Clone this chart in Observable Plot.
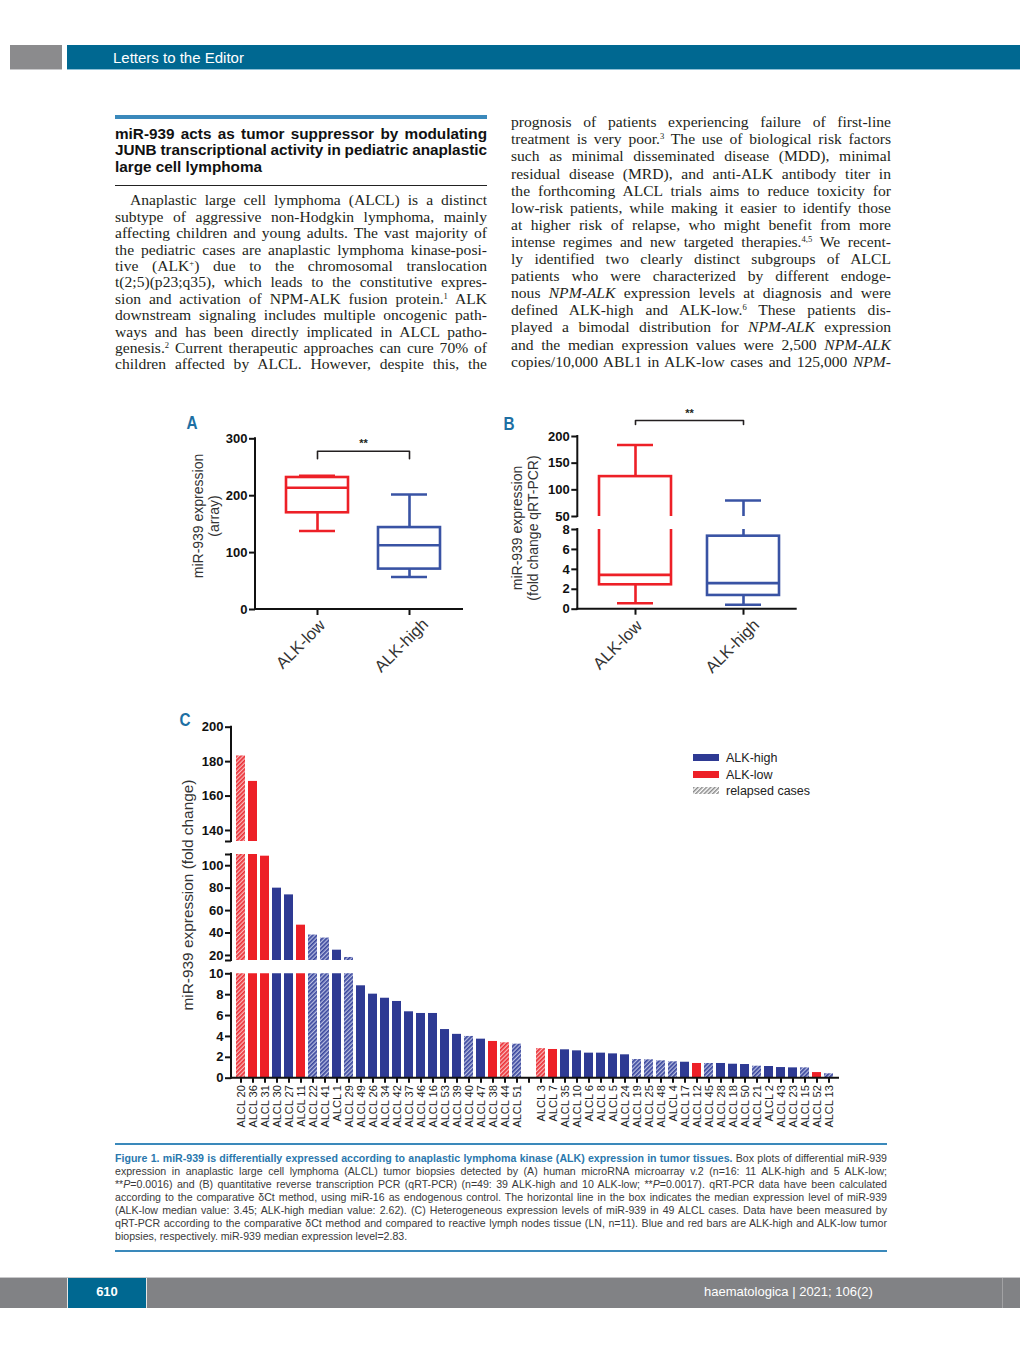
<!DOCTYPE html>
<html>
<head>
<meta charset="utf-8">
<script src="https://cdn.jsdelivr.net/npm/d3@7"></script>
<script src="https://cdn.jsdelivr.net/npm/@observablehq/plot@0.6"></script>
<style>
  html, body { margin: 0; padding: 0; background: #fff; }
  #page { position: relative; width: 1020px; height: 1347px; overflow: hidden; background: #fff;
          font-family: "Liberation Sans", Arial, Helvetica, sans-serif; }
  .box { position: absolute; }
  .ln { position: absolute; white-space: nowrap; }
  .ttl { font-family: "Liberation Sans", Arial, sans-serif; font-weight: bold; font-size: 15.3px; color: #111; }
  .srf { font-family: "Liberation Serif", "Times New Roman", serif; font-size: 15.6px; color: #231f20; }
  .cap { font-family: "Liberation Sans", Arial, sans-serif; font-size: 10.6px; color: #3a3a3a; }
  .cap b { color: #2a78ad; }
  sup { font-size: 0.55em; vertical-align: 0; position: relative; top: -0.6em; line-height: 0; }
  .ytitle { position: absolute; white-space: nowrap; text-align: center; color: #333;
            font-family: "Liberation Sans", Arial, sans-serif; transform: translate(-50%, -50%) rotate(-90deg); }
  .plet { position: absolute; font-family: "Liberation Sans Narrow", "Liberation Sans", Arial, sans-serif;
          font-weight: bold; font-size: 18px; color: #1d6fa3; transform: translate(-50%, -50%) scaleX(0.85); }
  .legtxt { position: absolute; font-size: 12.5px; color: #222; white-space: nowrap; transform: translateY(-50%); }
</style>
</head>
<body>
<div id="page">
  <svg width="0" height="0" style="position:absolute">
    <defs>
      <pattern id="hatch-blue" patternUnits="userSpaceOnUse" width="3" height="3" patternTransform="rotate(45)">
        <rect width="3" height="3" fill="#b8bee2"></rect>
        <rect width="1.7" height="3" fill="#3a479d"></rect>
      </pattern>
      <pattern id="hatch-red" patternUnits="userSpaceOnUse" width="3" height="3" patternTransform="rotate(45)">
        <rect width="3" height="3" fill="#f8b9bb"></rect>
        <rect width="1.7" height="3" fill="#ec3036"></rect>
      </pattern>
      <pattern id="hatch-gray" patternUnits="userSpaceOnUse" width="3" height="3" patternTransform="rotate(45)">
        <rect width="3" height="3" fill="#ffffff"></rect>
        <rect width="1.5" height="3" fill="#8a8a8a"></rect>
      </pattern>
    </defs>
  </svg>

  <!-- header -->
  <div class="box" style="left:10px;top:45px;width:52px;height:24px;background:#8b8b8d;"></div>
  <div class="box" style="left:10px;top:69px;width:52px;height:1px;background:#c9c9cb;"></div>
  <div class="box" style="left:67px;top:45px;width:953px;height:24px;background:#006891;"></div>
  <div class="box" style="left:67px;top:69px;width:953px;height:1px;background:#8fc0d6;"></div>
  <div class="box" style="left:113px;top:48px;height:20px;line-height:20px;font-size:15px;color:#fff;">Letters to the Editor</div>

  <!-- title rules -->
  <div class="box" style="left:115px;top:114.5px;width:372px;height:4px;background:#3a89bb;"></div>
  <div class="box" style="left:115px;top:185px;width:372px;height:1px;background:#222;"></div>

  <!-- caption rules -->
  <div class="box" style="left:115px;top:1143px;width:772px;height:1.5px;background:#3a89bb;"></div>
  <div class="box" style="left:115px;top:1250px;width:772px;height:1.5px;background:#3a89bb;"></div>

  <!-- footer -->
  <div class="box" style="left:0px;top:1278px;width:1020px;height:30px;background:#818285;"></div>
  <div class="box" style="left:0px;top:1277px;width:1020px;height:1px;background:#c8c8ca;"></div>
  <div class="box" style="left:67px;top:1278px;width:1px;height:30px;background:#e6e6e6;"></div>
  <div class="box" style="left:68px;top:1278px;width:78px;height:30px;background:#006891;"></div>
  <div class="box" style="left:146px;top:1278px;width:1px;height:30px;background:#e6e6e6;"></div>
  <div class="box" style="left:1002px;top:1278px;width:1px;height:30px;background:#a2a2a4;"></div>
  <div class="box" style="left:68px;top:1283px;width:78px;height:18px;line-height:18px;text-align:center;font-size:13px;font-weight:bold;color:#fff;">610</div>
  <div class="box" style="left:704px;top:1283px;height:18px;line-height:18px;font-size:13px;color:#fff;white-space:nowrap;">haematologica | 2021; 106(2)</div>

  <!-- panel letters -->
  <div class="plet" style="left:192px;top:423px;">A</div>
  <div class="plet" style="left:509px;top:424px;">B</div>
  <div class="plet" style="left:185px;top:720px;">C</div>

  <!-- axis titles -->
  <div class="ytitle" style="left:206px;top:516px;font-size:14px;line-height:16px;">miR-939 expression<br>(array)</div>
  <div class="ytitle" style="left:525px;top:528px;font-size:14px;line-height:16px;">miR-939 expression<br>(fold change qRT-PCR)</div>
  <div class="ytitle" style="left:188px;top:895px;font-size:15.4px;line-height:18px;">miR-939 expression (fold change)</div>
</div>

<script>
// ---------------- DATA ----------------
const groups = ["ALK-low", "ALK-high"];

// Panel A: microarray box plot statistics
const aMin    = [138, 57];
const aQ1     = [170, 71];
const aMedian = [214, 113];
const aQ3     = [232, 144];
const aMax    = [235, 202];
const aTicks  = [0, 100, 200, 300];
const sigA    = {top: 278, foot: 265, labelY: 292, label: "**"};

// Panel B: qRT-PCR box plot statistics
const bMin    = [0.6, 0.44];
const bQ1     = [2.45, 1.38];
const bMedian = [3.45, 2.62];
const bQ3     = [124.8, 7.33];
const bMax    = [184, 80];
const bTopDomain = [50, 200];
const bTopTicks  = [50, 100, 150, 200];
const bBotDomain = [0, 8];
const bBotTicks  = [0, 2, 4, 6, 8];
const sigB    = {top: 230, foot: 222.5, labelY: 243, label: "**"};

// Panel C: per-case fold change
const cases = ["ALCL 20","ALCL 36","ALCL 31","ALCL 30","ALCL 27","ALCL 11","ALCL 22","ALCL 41","ALCL 1","ALCL 29",
  "ALCL 49","ALCL 26","ALCL 34","ALCL 42","ALCL 37","ALCL 46","ALCL 16","ALCL 53","ALCL 39","ALCL 40",
  "ALCL 47","ALCL 38","ALCL 44","ALCL 51","ALCL 3","ALCL 7","ALCL 35","ALCL 10","ALCL 6","ALCL 8",
  "ALCL 5","ALCL 24","ALCL 19","ALCL 25","ALCL 48","ALCL 4","ALCL 17","ALCL 12","ALCL 45","ALCL 28",
  "ALCL 18","ALCL 50","ALCL 21","ALCL 2","ALCL 43","ALCL 23","ALCL 15","ALCL 52","ALCL 13"];
const foldChange = [183.3, 168.5, 108.5, 80, 74, 47, 38.2, 35.5, 24.7, 18.2,
  8.85, 8.05, 7.66, 7.35, 6.36, 6.2, 6.2, 4.66, 4.2, 4.0,
  3.74, 3.52, 3.39, 3.26, 2.83, 2.75, 2.72, 2.62, 2.40, 2.40,
  2.33, 2.24, 1.79, 1.76, 1.66, 1.57, 1.53, 1.41, 1.41, 1.41,
  1.34, 1.31, 1.15, 1.12, 1.02, 0.99, 0.99, 0.54, 0.42];
const alkStatus = ["low","low","low","high","high","low","high","high","high","high",
  "high","high","high","high","high","high","high","high","high","high",
  "high","low","low","high","low","low","high","high","high","high",
  "high","high","high","high","high","high","high","low","high","high",
  "high","high","high","high","high","high","high","low","high"];
const relapsed = [1,0,0,0,0,0,1,1,0,1,
  0,0,0,0,0,0,0,0,0,1,
  0,0,1,1,1,0,0,0,0,0,
  0,0,1,1,1,1,0,0,1,0,
  0,0,1,0,0,0,1,0,1];
const gapAfter = "ALCL 51";
const GAP = " ";
const cSegments = [
  {domain: [133.6, 200], ticks: [140, 160, 180, 200]},
  {domain: [15.5, 110],  ticks: [20, 40, 60, 80, 100]},
  {domain: [0, 10],      ticks: [0, 2, 4, 6, 8, 10]}
];
const legendItems = [
  {label: "ALK-high", fill: "#2e3a93"},
  {label: "ALK-low", fill: "#ed2027"},
  {label: "relapsed cases", fill: "url(#hatch-gray)"}
];

// ---------------- TEXT ----------------
const titleLines = [
  {t: "miR-939 acts as tumor suppressor by modulating"},
  {t: "JUNB transcriptional activity in pediatric anaplastic"},
  {t: "large cell lymphoma", last: true}
];
const leftLines = [
  {t: "Anaplastic large cell lymphoma (ALCL) is a distinct", ind: true},
  {t: "subtype of aggressive non-Hodgkin lymphoma, mainly"},
  {t: "affecting children and young adults. The vast majority of"},
  {t: "the pediatric cases are anaplastic lymphoma kinase-posi-"},
  {t: "tive (ALK<sup>+</sup>) due to the chromosomal translocation"},
  {t: "t(2;5)(p23;q35), which leads to the constitutive expres-"},
  {t: "sion and activation of NPM-ALK fusion protein.<sup>1</sup> ALK"},
  {t: "downstream signaling includes multiple oncogenic path-"},
  {t: "ways and has been directly implicated in ALCL patho-"},
  {t: "genesis.<sup>2</sup> Current therapeutic approaches can cure 70% of"},
  {t: "children affected by ALCL. However, despite this, the"}
];
const rightLines = [
  {t: "prognosis of patients experiencing failure of first-line"},
  {t: "treatment is very poor.<sup>3</sup> The use of biological risk factors"},
  {t: "such as minimal disseminated disease (MDD), minimal"},
  {t: "residual disease (MRD), and anti-ALK antibody titer in"},
  {t: "the forthcoming ALCL trials aims to reduce toxicity for"},
  {t: "low-risk patients, while making it easier to identify those"},
  {t: "at higher risk of relapse, who might benefit from more"},
  {t: "intense regimes and new targeted therapies.<sup>4,5</sup> We recent-"},
  {t: "ly identified two clearly distinct subgroups of ALCL"},
  {t: "patients who were characterized by different endoge-"},
  {t: "nous <i>NPM-ALK</i> expression levels at diagnosis and were"},
  {t: "defined ALK-high and ALK-low.<sup>6</sup> These patients dis-"},
  {t: "played a bimodal distribution for <i>NPM-ALK</i> expression"},
  {t: "and the median expression values were 2,500 <i>NPM-ALK</i>"},
  {t: "copies/10,000 ABL1 in ALK-low cases and 125,000 <i>NPM-</i>"}
];
const captionLines = [
  {t: "<b>Figure 1. miR-939 is differentially expressed according to anaplastic lymphoma kinase (ALK) expression in tumor tissues.</b> Box plots of differential miR-939"},
  {t: "expression in anaplastic large cell lymphoma (ALCL) tumor biopsies detected by (A) human microRNA microarray v.2 (n=16: 11 ALK-high and 5 ALK-low;"},
  {t: "**<i>P</i>=0.0016) and (B) quantitative reverse transcription PCR (qRT-PCR) (n=49: 39 ALK-high and 10 ALK-low; **<i>P</i>=0.0017). qRT-PCR data have been calculated"},
  {t: "according to the comparative &#948;Ct method, using miR-16 as endogenous control. The horizontal line in the box indicates the median expression level of miR-939"},
  {t: "(ALK-low median value: 3.45; ALK-high median value: 2.62). (C) Heterogeneous expression levels of miR-939 in 49 ALCL cases. Data have been measured by"},
  {t: "qRT-PCR according to the comparative &#948;Ct method and compared to reactive lymph nodes tissue (LN, n=11). Blue and red bars are ALK-high and ALK-low tumor"},
  {t: "biopsies, respectively. miR-939 median expression level=2.83.", last: true}
];

// ---------------- HELPERS ----------------
const page = document.getElementById("page");
const SVGNS = "http://www.w3.org/2000/svg";

function layLines(lines, o) {
  lines.forEach((ln, i) => {
    const d = document.createElement("div");
    d.className = "ln " + o.cls;
    d.innerHTML = ln.t;
    const ind = ln.ind ? (o.indent || 0) : 0;
    d.style.left = (o.x + ind) + "px";
    d.style.top = (o.y + i * o.dy - o.lh / 2) + "px";
    d.style.lineHeight = o.lh + "px";
    d.style.height = o.lh + "px";
    page.appendChild(d);
    if (!ln.last) {
      const nat = d.getBoundingClientRect().width;
      const n = (d.textContent.match(/ /g) || []).length;
      if (n) d.style.wordSpacing = ((o.w - ind - nat) / n) + "px";
    }
  });
}

layLines(titleLines, {cls: "ttl", x: 115, w: 372, y: 133.3, dy: 16.4, lh: 17});
layLines(leftLines, {cls: "srf", x: 115, w: 372, indent: 15, y: 199.8, dy: 16.4, lh: 17});
layLines(rightLines, {cls: "srf", x: 511, w: 380, y: 121.7, dy: 17.1, lh: 17});
layLines(captionLines, {cls: "cap", x: 115, w: 772, y: 1158, dy: 13.0, lh: 13});

function place(el, left, top) {
  el.style.position = "absolute";
  el.style.left = left + "px";
  el.style.top = top + "px";
  page.appendChild(el);
}

const FONT = '"Liberation Sans", Arial, Helvetica, sans-serif';
const RED = "#ed2027";
const BLUE_BOX = "#3953a4";
const BLUE_BAR = "#2e3a93";
const plotStyle = {fontFamily: FONT, background: "transparent", overflow: "visible", color: "#111"};

// axis line along a side of the plot frame (render-function mark using Plot's dimensions)
function frameLine(side) {
  return (index, scales, values, dims) => {
    const {width, height, marginTop, marginRight, marginBottom, marginLeft} = dims;
    const l = document.createElementNS(SVGNS, "line");
    if (side === "left") {
      l.setAttribute("x1", marginLeft); l.setAttribute("x2", marginLeft);
      l.setAttribute("y1", marginTop); l.setAttribute("y2", height - marginBottom);
    } else {
      l.setAttribute("x1", marginLeft); l.setAttribute("x2", width - marginRight);
      l.setAttribute("y1", height - marginBottom); l.setAttribute("y2", height - marginBottom);
    }
    l.setAttribute("stroke", "#111");
    l.setAttribute("stroke-width", 2);
    l.setAttribute("stroke-linecap", "square");
    return l;
  };
}

function boxTable(mn, q1, md, q3, mx) {
  return groups.map((g, i) => ({group: g, min: mn[i], q1: q1[i], median: md[i], q3: q3[i], max: mx[i]}));
}

function boxMarks(t, capInset, sw, clip) {
  return [
    Plot.ruleX(t, {x: "group", y1: "min", y2: "q1", stroke: "group", strokeWidth: sw, clip}),
    Plot.ruleX(t, {x: "group", y1: "q3", y2: "max", stroke: "group", strokeWidth: sw, clip}),
    Plot.tickY(t, {x: "group", y: "min", stroke: "group", strokeWidth: sw, insetLeft: capInset, insetRight: capInset, clip}),
    Plot.tickY(t, {x: "group", y: "max", stroke: "group", strokeWidth: sw, insetLeft: capInset, insetRight: capInset, clip}),
    Plot.barY(t, {x: "group", y1: "q1", y2: "q3", fill: "none", stroke: "group", strokeWidth: sw, clip}),
    Plot.tickY(t, {x: "group", y: "median", stroke: "group", strokeWidth: sw, clip})
  ];
}

function bracketMarks(s, half) {
  const pts = [
    {group: groups[0], y: s.foot}, {group: groups[0], y: s.top},
    {group: groups[1], y: s.top}, {group: groups[1], y: s.foot}
  ];
  return [
    Plot.line(pts, {x: "group", y: "y", stroke: "#231f20", strokeWidth: 1.6}),
    Plot.text([s], {x: () => groups[0], y: "labelY", text: "label", dx: half, fontSize: 11, fontWeight: "bold", fill: "#231f20"})
  ];
}

function yAxis(ticks, domain) {
  const labelled = new Set(ticks);
  const all = Array.from(new Set([...ticks, ...domain]));
  return Plot.axisY({
    ticks: all, tickFormat: d => labelled.has(d) ? String(d) : "",
    tickSize: 6, tickPadding: 2, fontSize: 13, fontWeight: "bold",
    strokeWidth: 2, label: null
  });
}

// x axis for the box plots: tick marks, then each rotated label nudged separately
function xAxisBox(nudges) {
  return [
    Plot.axisX({tickSize: 6, strokeWidth: 2, label: null, tickFormat: () => ""}),
    ...groups.map((g, i) => Plot.axisX({ticks: [g], tickSize: 0, tickPadding: 8, tickRotate: -45, fontSize: 16.5,
      label: null, fill: "#333", dx: nudges[i][0], dy: nudges[i][1]}))
  ];
}

const colorBox = {domain: groups, range: [RED, BLUE_BOX]};

// ---------------- PANEL A ----------------
const tableA = boxTable(aMin, aQ1, aMedian, aQ3, aMax);
const plotA = Plot.plot({
  width: 290, height: 255,
  marginLeft: 75, marginRight: 8, marginTop: 13.3, marginBottom: 71,
  style: plotStyle,
  x: {domain: groups, paddingInner: 0.326, paddingOuter: 0.288, align: 0.58},
  y: {domain: [0, 300]},
  color: colorBox,
  marks: [
    yAxis(aTicks, [0, 300]),
    ...xAxisBox([[5, 5], [16, 4]]),
    frameLine("left"), frameLine("bottom"),
    ...boxMarks(tableA, 13, 2.6, false),
    ...bracketMarks(sigA, 46)
  ]
});
place(plotA, 180, 425);

// ---------------- PANEL B ----------------
const tableB = boxTable(bMin, bQ1, bMedian, bQ3, bMax);
const xB = {domain: groups, paddingInner: 0.336, paddingOuter: 0.175, align: 0.55};
const plotBTop = Plot.plot({
  width: 305, height: 116,
  marginLeft: 77.3, marginRight: 9.3, marginTop: 36, marginBottom: 0,
  style: plotStyle,
  x: {...xB, axis: null},
  y: {domain: bTopDomain},
  color: colorBox,
  marks: [
    yAxis(bTopTicks, bTopDomain),
    frameLine("left"),
    ...boxMarks(tableB, 18, 2.6, true),
    ...bracketMarks(sigB, 54)
  ]
});
place(plotBTop, 500, 400);

const plotBBot = Plot.plot({
  width: 305, height: 160,
  marginLeft: 77.3, marginRight: 9.3, marginTop: 9, marginBottom: 71.3,
  style: plotStyle,
  x: xB,
  y: {domain: bBotDomain},
  color: colorBox,
  marks: [
    yAxis(bBotTicks, bBotDomain),
    ...xAxisBox([[4, 6], [13, 5]]),
    frameLine("left"), frameLine("bottom"),
    ...boxMarks(tableB, 18, 2.6, true)
  ]
});
place(plotBBot, 500, 520);

// ---------------- PANEL C ----------------
const tableC = cases.map((c, i) => ({name: c, value: foldChange[i], alk: alkStatus[i], relapsed: relapsed[i] === 1}));
const gapIndex = cases.indexOf(gapAfter) + 1;
const domainC = [...cases.slice(0, gapIndex), GAP, ...cases.slice(gapIndex)];
const xC = {domain: domainC, paddingInner: 0.28, paddingOuter: 0.18, align: 0.5};

function barMarks() {
  const fills = [
    {alk: "high", rel: false, fill: BLUE_BAR},
    {alk: "low", rel: false, fill: RED},
    {alk: "high", rel: true, fill: "url(#hatch-blue)"},
    {alk: "low", rel: true, fill: "url(#hatch-red)"}
  ];
  return fills.map(f => Plot.barY(tableC.filter(d => d.alk === f.alk && d.relapsed === f.rel),
    {x: "name", y: "value", fill: f.fill, clip: true}));
}

const segLayout = [
  {top: 700, height: 141, marginTop: 26.7, marginBottom: 0},
  {top: 845, height: 115, marginTop: 9, marginBottom: 0},
  {top: 965, height: 170, marginTop: 8.3, marginBottom: 57.3}
];

cSegments.forEach((seg, k) => {
  const L = segLayout[k];
  const isBottom = k === cSegments.length - 1;
  const marks = [...barMarks(), yAxis(seg.ticks, seg.domain), frameLine("left")];
  if (isBottom) {
    marks.push(frameLine("bottom"));
    marks.push(Plot.axisX({
      tickSize: 5, tickPadding: 2, tickRotate: -90, fontSize: 11, strokeWidth: 2,
      label: null, fill: "#222", tickFormat: d => d === GAP ? "" : d
    }));
  }
  const p = Plot.plot({
    width: 700, height: L.height,
    marginLeft: 71, marginRight: 22, marginTop: L.marginTop, marginBottom: L.marginBottom,
    style: plotStyle,
    x: isBottom ? xC : {...xC, axis: null},
    y: {domain: seg.domain},
    marks
  });
  place(p, 160, L.top);
});

// legend for panel C
const legTops = [754, 771, 787];
legendItems.forEach((it, i) => {
  const s = document.createElementNS(SVGNS, "svg");
  s.setAttribute("width", 26); s.setAttribute("height", 7);
  const r = document.createElementNS(SVGNS, "rect");
  r.setAttribute("width", 26); r.setAttribute("height", 7); r.setAttribute("fill", it.fill);
  s.appendChild(r);
  place(s, 693, legTops[i]);
  const t = document.createElement("div");
  t.className = "legtxt";
  t.textContent = it.label;
  t.style.left = "726px";
  t.style.top = (legTops[i] + 4) + "px";
  page.appendChild(t);
});
</script>
</body>
</html>
